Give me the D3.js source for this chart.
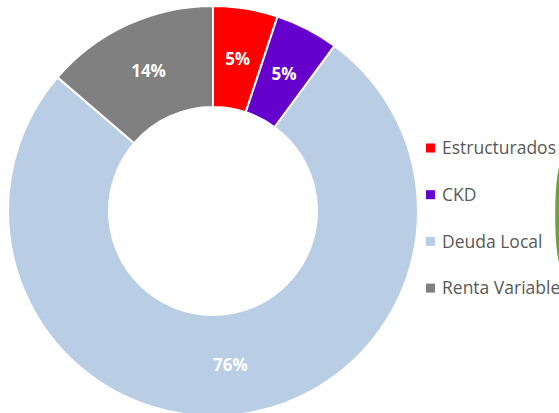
<!DOCTYPE html>
<html>
<head>
<meta charset="utf-8">
<script src="https://cdn.jsdelivr.net/npm/d3@7"></script>
<style>
  body { margin: 0; background: #fff; }
  svg { display: block; }
  .lbl { font-family: "Open Sans", sans-serif; font-weight: bold; fill: #fff; }
  .leg { font-family: "Open Sans", sans-serif; fill: #595959; }
</style>
</head>
<body>
<div class="chart"></div>
<script>
// Donut: portfolio composition

var categories = ["Estructurados", "CKD", "Deuda Local", "Renta Variable"];
var values = [5.1, 5.0, 76.2, 13.7];
var labels = ["5%", "5%", "76%", "14%"];
var colors = ["#ff0000", "#6600cc", "#b9cde5", "#808080"];

var svgWidth = 559;
var svgHeight = 413;

var cx = 213, cy = 211;
var outerR = 205, innerR = 104;

var svg = d3.select(".chart")
  .append("svg")
  .attr("width", svgWidth)
  .attr("height", svgHeight);

// partial green shape cut off at the right edge
var grad = svg.append("defs").append("linearGradient")
  .attr("id", "g1").attr("x1", "0").attr("x2", "1");
grad.append("stop").attr("offset", "0").attr("stop-color", "#8fb86a");
grad.append("stop").attr("offset", "0.12").attr("stop-color", "#6f9c35");
grad.append("stop").attr("offset", "0.5").attr("stop-color", "#7aa640");
grad.append("stop").attr("offset", "1").attr("stop-color", "#9cc070");
svg.append("ellipse")
  .attr("cx", 563)
  .attr("cy", 215)
  .attr("rx", 8)
  .attr("ry", 55)
  .attr("fill", "url(#g1)");

var pie = d3.pie().sort(null).value(function(d) { return d; });
var arc = d3.arc().innerRadius(innerR).outerRadius(outerR);
var labelArc = d3.arc().innerRadius((innerR + outerR) / 2).outerRadius((innerR + outerR) / 2);

var chart = svg.append("g")
  .attr("transform", "translate(" + cx + "," + cy + ")");

var arcs = pie(values);

chart.selectAll("path")
  .data(arcs)
  .enter().append("path")
    .attr("d", arc)
    .attr("fill", function(d, i) { return colors[i]; })
    .attr("stroke", "#fff")
    .attr("stroke-width", 2);

chart.selectAll("text")
  .data(arcs)
  .enter().append("text")
    .attr("class", "lbl")
    .attr("transform", function(d) { return "translate(" + labelArc.centroid(d) + ")"; })
    .attr("text-anchor", "middle")
    .attr("dy", "0.36em")
    .style("font-size", "17px")
    .text(function(d, i) { return labels[i]; });

// legend
var legend = svg.append("g")
  .attr("transform", "translate(426,148)");

var rows = legend.selectAll("g")
  .data(categories)
  .enter().append("g")
    .attr("transform", function(d, i) { return "translate(0," + (i * 46.7) + ")"; });

rows.append("rect")
  .attr("x", 0)
  .attr("y", -4.5)
  .attr("width", 9)
  .attr("height", 9)
  .attr("fill", function(d, i) { return colors[i]; });

rows.append("text")
  .attr("class", "leg")
  .attr("x", 16)
  .attr("dy", "0.35em")
  .style("font-size", "17.5px")
  .text(function(d) { return d; });
</script>
</body>
</html>
